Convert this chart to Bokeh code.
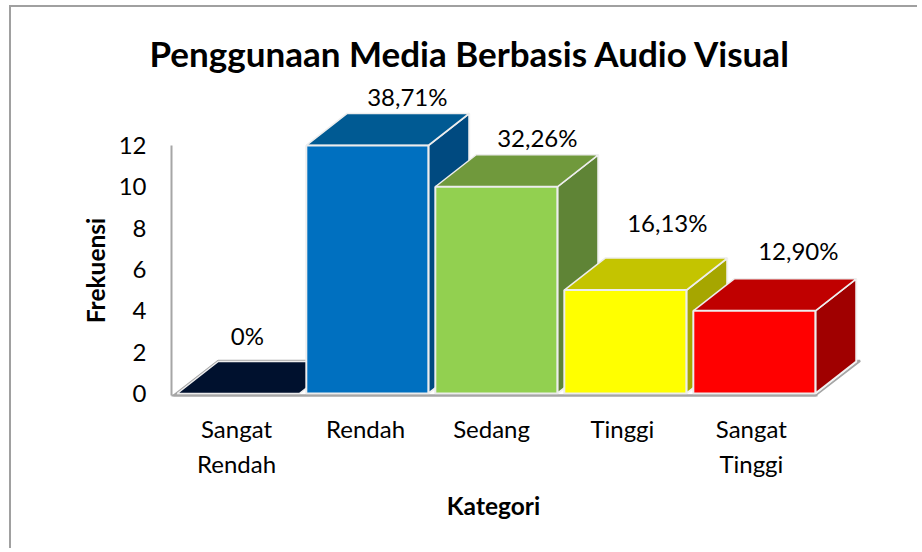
from bokeh.plotting import figure
from bokeh.models import ColumnDataSource, Range1d, FixedTicker, Title, Label
from bokeh.core.properties import value
from bokeh.embed import file_html
from bokeh.resources import INLINE
import math

categories = ["Sangat\nRendah", "Rendah", "Sedang", "Tinggi", "Sangat\nTinggi"]
category_ticks = [-0.014, 0.986, 1.963, 2.977, 3.977]
frequencies = [0, 12, 10, 5, 4]
percent_labels = ["0%", "38,71%", "32,26%", "16,13%", "12,90%"]
y_ticks = [0, 2, 4, 6, 8, 10, 12]
title_text = "Penggunaan Media Berbasis Audio Visual"
x_title = "Kategori"
y_title = "Frekuensi"

front_colors = ["#002060", "#0070C0", "#92D050", "#FFFF00", "#FF0000"]
top_colors = ["#00112E", "#005A93", "#70993C", "#C4C400", "#C00000"]
side_colors = ["#001030", "#004A80", "#5F8436", "#A6A600", "#A00000"]

label_dx = [9, 40, 41, 42, 44]
label_dy = [-58, -49, -49, -68, -60]

FONT = "Lato"
GRAY = "#A6A6A6"
half = 0.473
dx = 0.317
dy = 1.548
x_axis_at = -0.518
y_axis_at = -0.097

p = figure(
    width=908, height=543, output_backend="svg", toolbar_location=None,
    x_range=Range1d(-1.3785, 4.978), y_range=Range1d(-7.354, 15.14),
    min_border_left=49, min_border_right=39, min_border_top=73, min_border_bottom=5,
    margin=(5, 0, 0, 9),
    styles={"border-top": "2px solid #A0A0A0", "border-left": "2px solid #A0A0A0"},
)
p.outline_line_color = None
p.grid.visible = False

t = Title(text=title_text, align="left", offset=89, standoff=14, text_font=FONT, text_font_size="35px",
          text_font_style="bold", text_color="#000000")
p.title = t

# floor
n = len(frequencies)
p.patch([-half - 0.03, -half - 0.03 + dx + 0.03, n - 1 + half + dx + 0.03, n - 1 + half],
        [y_axis_at, dy + 0.03, dy + 0.03, y_axis_at],
        fill_color="white", line_color=GRAY, line_width=2)

for i, v in enumerate(frequencies):
    l, r = i - half, i + half
    if v > 0:
        p.patch([r, r + dx, r + dx, r], [0, dy, v + dy, v],
                fill_color=side_colors[i], line_color="#F2F2F2", line_width=2)
    p.patch([l, l + dx, r + dx, r], [v, v + dy, v + dy, v],
            fill_color=top_colors[i], line_color="#EDEDED", line_width=1.5)
    if v > 0:
        p.quad(left=l, right=r, bottom=0, top=v,
               fill_color=front_colors[i], line_color="#EDEDED", line_width=2)

src = ColumnDataSource(dict(x=list(range(n)), y=frequencies, text=percent_labels, xo=label_dx, yo=label_dy))
p.text("x", "y", text="text", source=src, x_offset="xo", y_offset="yo",
       text_align="center", text_baseline="middle",
       text_font=value(FONT), text_font_size="24px", text_color="#000000")

xa = p.xaxis[0]
xa.fixed_location = y_axis_at
xa.ticker = FixedTicker(ticks=category_ticks)
xa.major_label_overrides = {k: c for k, c in zip(category_ticks, categories)}
xa.bounds = (x_axis_at, n - 1 + half + 0.02)
xa.major_label_standoff = 19
xa.major_label_text_font = FONT
xa.major_label_text_font_size = "24px"
xa.major_label_text_color = "#000000"

ya = p.yaxis[0]
ya.fixed_location = x_axis_at
ya.ticker = FixedTicker(ticks=y_ticks)
ya.bounds = (y_axis_at, 12)
ya.major_label_standoff = 25
ya.major_label_text_font = FONT
ya.major_label_text_font_size = "24px"
ya.major_label_text_color = "#000000"

for a in (xa, ya):
    a.axis_line_color = GRAY
    a.axis_line_width = 2
    a.major_tick_out = 0
    a.major_tick_in = 0
    a.major_tick_line_color = None
    a.minor_tick_line_color = None

p.add_layout(Label(x=1.978, y=-5.42, text=x_title, text_font=FONT, text_font_size="24.5px",
                   text_font_style="bold", text_color="#000000", text_align="center", text_baseline="middle"))
p.add_layout(Label(x=-1.107, y=5.95, text=y_title, angle=math.pi / 2, text_font=FONT, text_font_size="24.5px",
                   text_font_style="bold", text_color="#000000", text_align="center", text_baseline="middle"))

open("out.html", "w").write(file_html(p, INLINE))
